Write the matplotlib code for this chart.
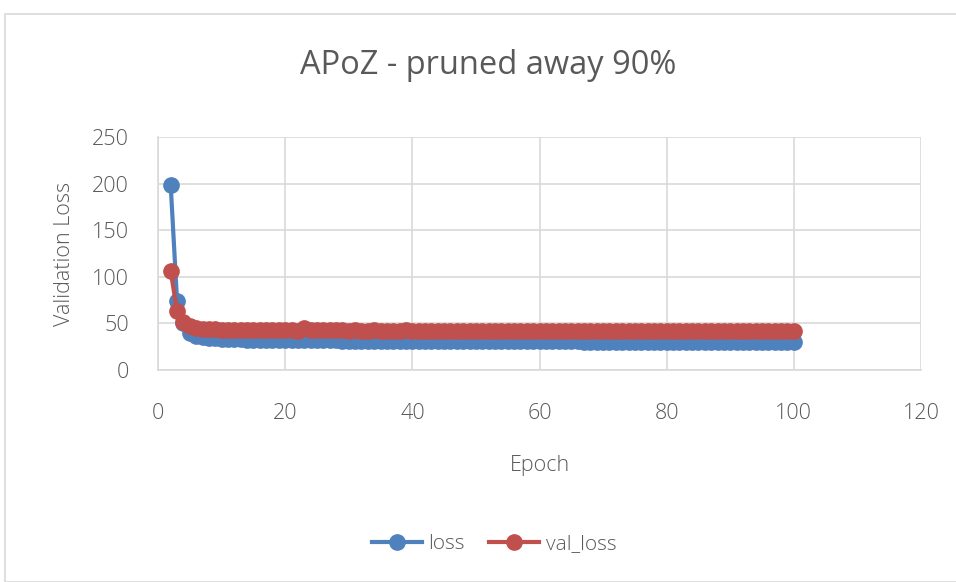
import matplotlib
matplotlib.use("Agg")
import matplotlib.pyplot as plt
from matplotlib.patches import Rectangle

plt.rcParams['font.family'] = ['Open Sans', 'DejaVu Sans']

epochs = list(range(2, 101))

loss = [198, 74, 50, 40, 37, 35.5, 34.5, 34, 33.6, 33.3, 33.1, 32.9, 32.7, 32.6, 32.5,
        32.4, 32.3, 32.2, 32.1, 32.0, 32.0, 32.4, 31.9, 31.8, 31.8, 31.7, 31.7, 31.6, 31.6,
        31.5, 31.5, 31.5, 31.4, 31.4, 31.4, 31.3, 31.3, 31.3, 31.2, 31.2, 31.2, 31.1, 31.1,
        31.1, 31.0, 31.0, 31.0, 31.0, 30.9, 30.9, 30.9, 30.9, 30.8, 30.8, 30.8, 30.8, 30.7,
        30.7, 30.7, 30.7, 30.6, 30.6, 30.6, 30.6, 30.6, 30.5, 30.5, 30.5, 30.5, 30.5, 30.4,
        30.4, 30.4, 30.4, 30.4, 30.3, 30.3, 30.3, 30.3, 30.3, 30.2, 30.2, 30.2, 30.2, 30.2,
        30.1, 30.1, 30.1, 30.1, 30.1, 30.0, 30.0, 30.0, 30.0, 30.0, 29.9, 29.9, 29.9, 29.9]

val_loss = [106, 63, 52, 47, 45, 44, 44.5, 43.5, 43.2, 43.4, 43.0, 42.8, 43.1, 42.7, 42.6,
            42.9, 42.6, 42.5, 42.4, 42.6, 42.3, 45.0, 43.0, 42.6, 42.5, 42.4, 42.7, 42.4, 42.3,
            42.5, 42.3, 42.2, 42.4, 42.2, 42.3, 42.1, 42.2, 42.4, 42.1, 42.2, 42.0, 42.3, 42.1,
            42.0, 42.2, 42.1, 42.0, 42.3, 42.1, 42.0, 42.1, 42.2, 42.0, 42.1, 42.0, 42.2, 42.0,
            41.9, 42.1, 42.0, 42.0, 42.2, 41.9, 42.0, 42.1, 41.9, 42.0, 42.1, 41.9, 42.0, 42.0,
            41.9, 42.1, 42.0, 41.9, 42.0, 42.1, 41.9, 42.0, 41.9, 42.0, 42.1, 41.9, 42.0, 41.9,
            42.0, 42.0, 41.9, 42.1, 41.9, 42.0, 41.9, 42.0, 42.1, 41.9, 42.0, 41.9, 42.0, 42.0]

x_ticks = [0, 20, 40, 60, 80, 100, 120]
y_ticks = [0, 50, 100, 150, 200, 250]

blue = '#4f81bd'
red = '#c0504d'
text_color = '#595959'
grid_color = '#d9d9d9'

fig = plt.figure(figsize=(9.56, 5.82), dpi=100)
fig.patches.append(Rectangle((5 / 956, 0), 1, 1 - 14 / 582, transform=fig.transFigure,
                             fill=False, edgecolor='#d9d9d9', linewidth=1.2))

ax = fig.add_axes([158 / 956, 1 - 370 / 582, (921 - 158) / 956, (370 - 137) / 582])

ax.plot(epochs, loss, color=blue, linewidth=3, marker='o', markersize=11,
        markeredgecolor=blue, label='loss', zorder=3)
ax.plot(epochs, val_loss, color=red, linewidth=3, marker='o', markersize=11,
        markeredgecolor=red, label='val_loss', zorder=4)

ax.set_xlim(0, 120)
ax.set_ylim(0, 250)
ax.set_xticks(x_ticks)
ax.set_yticks(y_ticks)
ax.grid(True, color=grid_color, linewidth=1.2)
ax.set_axisbelow(True)
for side in ['top', 'right']:
    ax.spines[side].set_visible(False)
for side in ['left', 'bottom']:
    ax.spines[side].set_color(grid_color)
    ax.spines[side].set_linewidth(1.2)
ax.tick_params(length=0, colors=text_color, labelsize=15.5)
ax.tick_params(axis='x', pad=24)
ax.tick_params(axis='y', pad=21)
for lbl in ax.get_xticklabels() + ax.get_yticklabels():
    lbl.set_fontweight('light')

ax.set_xlabel('Epoch', color=text_color, fontsize=15.5, labelpad=22, fontweight='light')
ax.set_ylabel('Validation Loss', color=text_color, fontsize=15.5, labelpad=12,
              fontweight='light')
fig.text(488 / 956, 1 - 66 / 582, 'APoZ - pruned away 90%', ha='center', va='center',
         color=text_color, fontsize=23.5)

leg = fig.legend(loc='center', bbox_to_anchor=(494 / 956, 1 - 544 / 582), ncol=2,
                 frameon=False, fontsize=15, labelcolor=text_color, handlelength=2.4,
                 columnspacing=1.2, handletextpad=0.3)
for t in leg.get_texts():
    t.set_fontweight('light')

fig.savefig('out.png', dpi=100)
